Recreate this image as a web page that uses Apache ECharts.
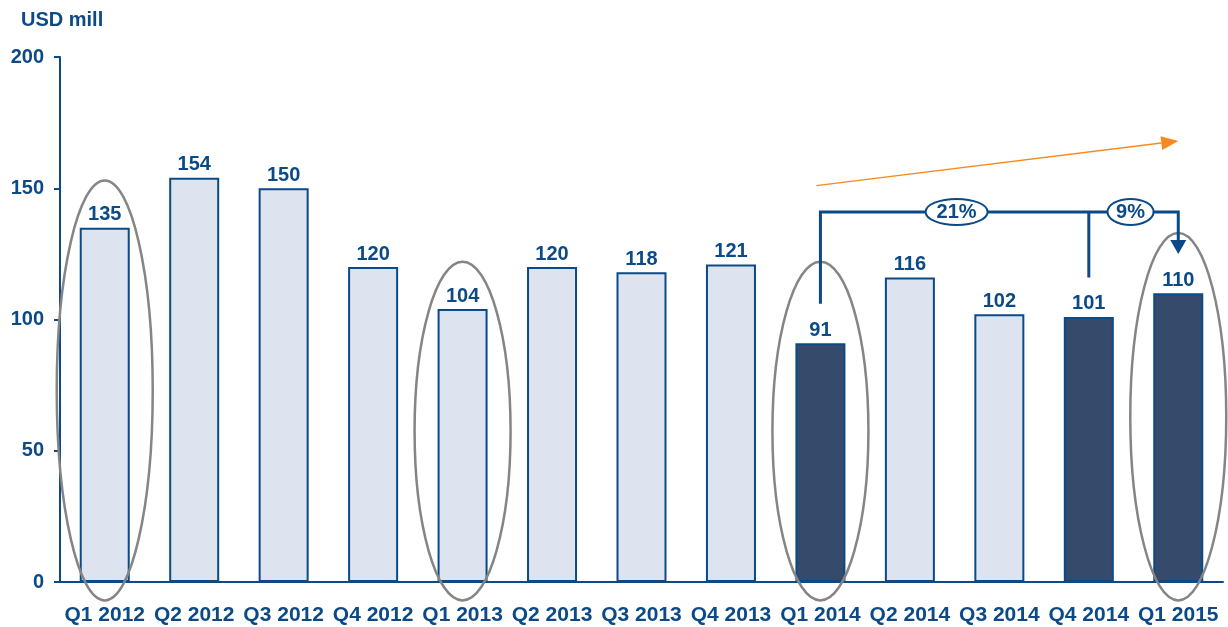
<!DOCTYPE html>
<html>
<head>
<meta charset="utf-8">
<script src="https://cdn.jsdelivr.net/npm/echarts@6/dist/echarts.min.js"></script>
<style>
html,body{margin:0;padding:0;background:#fff;}
#chart{width:1228px;height:627px;}
</style>
</head>
<body>
<div id="chart"></div>
<script>
var categories = ['Q1 2012', 'Q2 2012', 'Q3 2012', 'Q4 2012', 'Q1 2013', 'Q2 2013', 'Q3 2013',
    'Q4 2013', 'Q1 2014', 'Q2 2014', 'Q3 2014', 'Q4 2014', 'Q1 2015'];
var values = [135, 154, 150, 120, 104, 120, 118, 121, 91, 116, 102, 101, 110];
var highlighted = ['Q1 2014', 'Q4 2014', 'Q1 2015'];
var yTicks = [0, 50, 100, 150, 200];

// ellipses around the first quarters: [category, top value, bottom value]
var circled = [['Q1 2012', 153, -7], ['Q1 2013', 122, -7], ['Q1 2014', 122, -7], ['Q1 2015', 133, -7]];
// growth bracket
var bracketLevel = 141;
var growthLabels = [['21%', 'Q4 2014'], ['9%', 'Q1 2015']];

var navy = '#0b4a86';
var light = '#dde4ef';
var dark = '#364b6c';
var font = 'Liberation Sans, Arial, sans-serif';

var myChart = echarts.init(document.getElementById('chart'));

var option = {
    animation: false,
    textStyle: { fontFamily: font },
    title: {
        text: 'USD mill',
        left: 16,
        top: 5,
        textStyle: { color: navy, fontSize: 20, fontWeight: 'bold', fontFamily: font }
    },
    grid: { left: 60, right: 5, top: 57, bottom: 45 },
    xAxis: {
        type: 'category',
        data: categories,
        axisLine: { lineStyle: { color: navy, width: 2 } },
        axisTick: { show: false },
        axisLabel: { color: navy, fontSize: 21, fontWeight: 'bold', margin: 23, interval: 0, fontFamily: font }
    },
    yAxis: {
        type: 'value',
        min: yTicks[0],
        max: yTicks[yTicks.length - 1],
        interval: 50,
        axisLine: { show: true, lineStyle: { color: navy, width: 2 } },
        axisTick: { show: true, inside: false, length: 6, lineStyle: { color: navy, width: 2 } },
        axisLabel: { color: navy, fontSize: 20, fontWeight: 'bold', margin: 16, fontFamily: font },
        splitLine: { show: false }
    },
    series: [{
        type: 'bar',
        barWidth: 50,
        data: values.map(function (v, i) {
            var hi = highlighted.indexOf(categories[i]) >= 0;
            return {
                value: v,
                itemStyle: { color: hi ? dark : light, borderColor: navy, borderWidth: 2 }
            };
        }),
        label: {
            show: true,
            position: 'top',
            distance: 3,
            color: navy,
            fontSize: 20,
            fontWeight: 'bold',
            fontFamily: font
        }
    }]
};
myChart.setOption(option);

function px(cat, v) {
    return myChart.convertToPixel({ gridIndex: 0 }, [cat, v]);
}

var graphics = [];
circled.forEach(function (c) {
    var top = px(c[0], c[1]);
    var bot = px(c[0], c[2]);
    graphics.push({
        type: 'ellipse',
        shape: { cx: top[0], cy: (top[1] + bot[1]) / 2, rx: 48, ry: (bot[1] - top[1]) / 2 },
        style: { fill: 'none', stroke: '#858585', lineWidth: 2.5 },
        z: 10
    });
});

// bracket from Q1 2014 to Q4 2014 and Q1 2015
var a = px('Q1 2014', bracketLevel), a0 = px('Q1 2014', 106);
var b = px('Q4 2014', bracketLevel), b0 = px('Q4 2014', 116);
var c = px('Q1 2015', bracketLevel), c0 = px('Q1 2015', 125);
var lineStyle = { stroke: navy, lineWidth: 3, fill: 'none' };
graphics.push({
    type: 'polyline',
    shape: { points: [a0, a, c, [c[0], c0[1] - 12]] },
    style: lineStyle, z: 11
});
graphics.push({
    type: 'line',
    shape: { x1: b[0], y1: b[1], x2: b0[0], y2: b0[1] },
    style: lineStyle, z: 11
});
graphics.push({
    type: 'polygon',
    shape: { points: [[c0[0] - 8, c0[1] - 14], [c0[0] + 8, c0[1] - 14], [c0[0], c0[1]]] },
    style: { fill: navy }, z: 11
});
growthLabels.forEach(function (g, i) {
    var p = i === 0 ? [(a[0] + b[0]) / 2 + 2, a[1]] : [(b[0] + c[0]) / 2 - 3, a[1]];
    var rx = i === 0 ? 31 : 23;
    graphics.push({
        type: 'ellipse',
        shape: { cx: p[0], cy: p[1], rx: rx, ry: 13 },
        style: { fill: '#fff', stroke: navy, lineWidth: 2 },
        z: 12
    });
    graphics.push({
        type: 'text',
        x: p[0], y: p[1] + 1,
        style: {
            text: g[0], fill: navy, font: 'bold 20px ' + font,
            align: 'center', verticalAlign: 'middle'
        },
        z: 13
    });
});

// orange trend arrow
var s = px('Q1 2014', 151), e = px('Q1 2015', 168);
s[0] -= 4;
var ang = Math.atan2(e[1] - s[1], e[0] - s[0]);
var hl = 17, hw = 7;
var bx = e[0] - hl * Math.cos(ang), by = e[1] - hl * Math.sin(ang);
graphics.push({
    type: 'line',
    shape: { x1: s[0], y1: s[1], x2: bx, y2: by },
    style: { stroke: '#f58a1f', lineWidth: 1.5 }, z: 11
});
graphics.push({
    type: 'polygon',
    shape: {
        points: [e,
            [bx + hw * Math.sin(ang), by - hw * Math.cos(ang)],
            [bx - hw * Math.sin(ang), by + hw * Math.cos(ang)]]
    },
    style: { fill: '#f58a1f' }, z: 11
});

myChart.setOption({ graphic: graphics });
</script>
</body>
</html>
